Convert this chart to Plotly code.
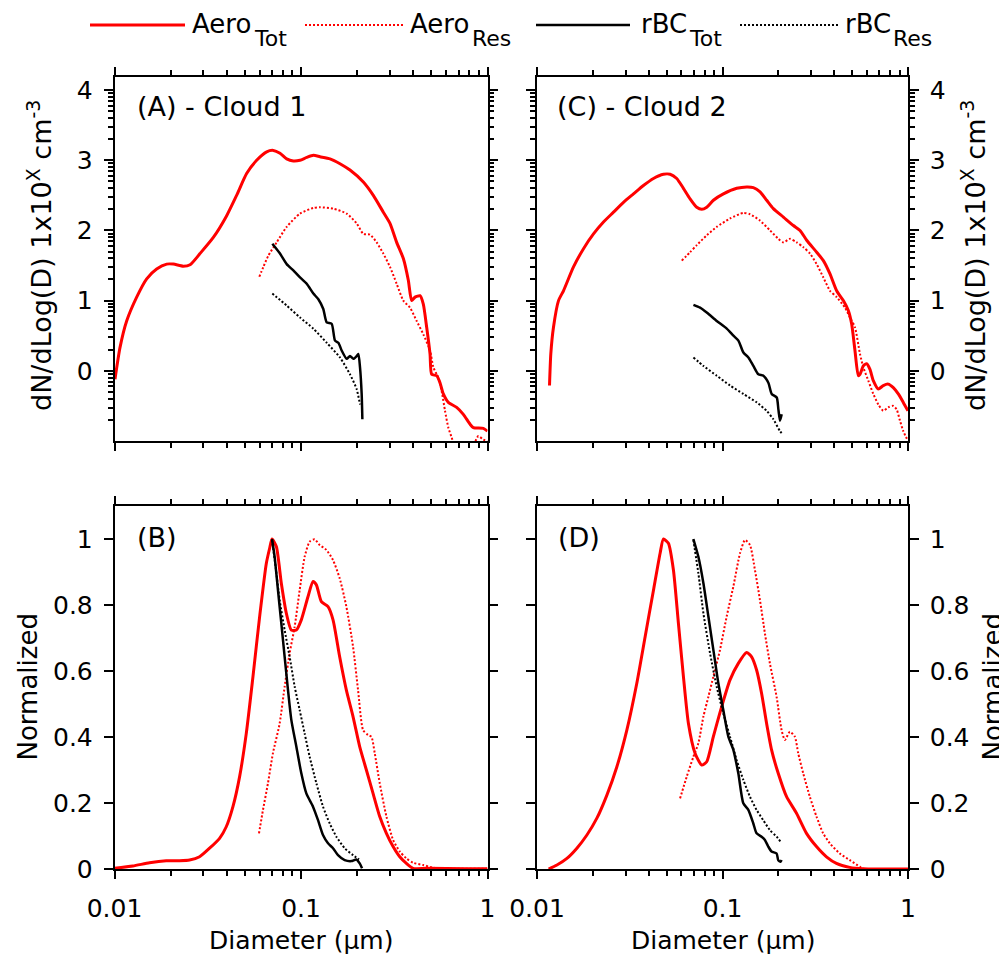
import numpy as np
import plotly.graph_objects as go

# ---------------- data (diameter in um; top panels: log10 dN/dlogD exponent; bottom: normalized) -------------
A_tot_d = [0.01006, 0.0107, 0.01162, 0.01315, 0.01488, 0.01683, 0.01905, 0.02068, 0.02339, 0.02541, 0.02873, 0.03388,
           0.03995, 0.04518, 0.0511, 0.05783, 0.06545, 0.07106, 0.07716, 0.08379, 0.09097, 0.09876, 0.1073, 0.1165,
           0.1264, 0.143, 0.1618, 0.1831, 0.2159, 0.2442, 0.2763, 0.3, 0.3258, 0.3538, 0.3762, 0.3921, 0.4087, 0.4346,
           0.4527, 0.4719, 0.4918, 0.502, 0.5339, 0.5563, 0.5798, 0.6166, 0.6833, 0.742, 0.8057, 0.8397, 0.9499, 1.0]
A_tot_y = [-0.12, 0.33, 0.71, 1.05, 1.31, 1.45, 1.52, 1.52, 1.49, 1.51, 1.67, 1.9, 2.21, 2.5, 2.81, 3.0, 3.12, 3.14,
           3.1, 3.02, 2.99, 3.0, 3.04, 3.07, 3.05, 3.02, 2.95, 2.86, 2.69, 2.5, 2.26, 2.1, 1.83, 1.6, 1.29, 1.0, 1.05,
           1.07, 0.95, 0.62, 0.24, -0.05, -0.07, -0.17, -0.33, -0.45, -0.52, -0.62, -0.76, -0.81, -0.82, -0.86]
A_res_d = [0.05978, 0.06281, 0.0668, 0.07404, 0.08379, 0.09876, 0.1165, 0.1264, 0.1491, 0.1758, 0.1988, 0.2159,
           0.2344, 0.2545, 0.2763, 0.3, 0.3258, 0.3538, 0.3841, 0.4171, 0.4527, 0.4918, 0.5125, 0.545, 0.5678, 0.5918,
           0.6166, 0.6426, 0.6833, 0.8397, 0.893, 0.9499, 1.0]
A_res_y = [1.34, 1.48, 1.64, 1.83, 2.05, 2.24, 2.32, 2.33, 2.31, 2.24, 2.1, 1.95, 1.94, 1.83, 1.67, 1.48, 1.24, 1.0,
           0.9, 0.71, 0.52, 0.29, 0.05, -0.1, -0.29, -0.57, -0.81, -0.95, -1.14, -1.05, -0.93, -0.98, -1.0]
A_bct_d = [0.0702, 0.07716, 0.08379, 0.09097, 0.09876, 0.1073, 0.1165, 0.1239, 0.1317, 0.1373, 0.146, 0.1522, 0.1586,
           0.1652, 0.1758, 0.1831, 0.1909, 0.1988, 0.203, 0.2072, 0.2115, 0.2133]
A_bct_y = [1.81, 1.67, 1.52, 1.43, 1.33, 1.24, 1.1, 1.02, 0.88, 0.69, 0.67, 0.43, 0.4, 0.29, 0.17, 0.21, 0.17, 0.21,
           0.24, 0.05, -0.33, -0.69]
A_bcr_d = [0.0702, 0.08379, 0.09876, 0.1165, 0.1373, 0.1618, 0.1831, 0.1988, 0.2072]
A_bcr_y = [1.1, 0.93, 0.76, 0.6, 0.4, 0.19, -0.05, -0.26, -0.48]

C_tot_d = [0.01168, 0.01187, 0.01227, 0.01306, 0.01389, 0.01573, 0.01781, 0.02016, 0.02282, 0.02584, 0.02925,
           0.03311, 0.03748, 0.04243, 0.04804, 0.05218, 0.05667, 0.06155, 0.06686, 0.07262, 0.07729, 0.08222, 0.08932,
           0.1011, 0.1193, 0.1351, 0.1467, 0.1594, 0.1731, 0.188, 0.2129, 0.241, 0.2618, 0.2843, 0.3219, 0.3497,
           0.3798, 0.4125, 0.448, 0.4766, 0.4968, 0.5177, 0.5396, 0.5509, 0.5742, 0.5984, 0.6237, 0.6501, 0.6918,
           0.736, 0.7832, 0.8332, 0.8864, 0.9432, 1.0]
C_tot_y = [-0.21, 0.24, 0.62, 1.0, 1.14, 1.48, 1.74, 1.95, 2.12, 2.26, 2.4, 2.52, 2.64, 2.74, 2.8, 2.8, 2.74, 2.6,
           2.45, 2.33, 2.3, 2.33, 2.43, 2.52, 2.6, 2.62, 2.61, 2.55, 2.43, 2.31, 2.19, 2.07, 2.0, 1.86, 1.69, 1.57,
           1.38, 1.14, 1.0, 0.86, 0.67, 0.29, -0.07, -0.05, 0.07, 0.1, 0.02, -0.14, -0.26, -0.21, -0.19, -0.24, -0.33,
           -0.45, -0.57]
C_res_d = [0.0603, 0.06688, 0.07264, 0.08224, 0.0931, 0.1098, 0.1296, 0.1407, 0.1594, 0.1804, 0.2001, 0.2129, 0.2312,
           0.2512, 0.2729, 0.2964, 0.3219, 0.3497, 0.3798, 0.4125, 0.4574, 0.4866, 0.5177, 0.5509, 0.5742, 0.611,
           0.6501, 0.6918, 0.736, 0.7832, 0.8332, 0.8686, 0.9054, 0.9432, 1.0]
C_res_y = [1.57, 1.69, 1.79, 1.93, 2.05, 2.17, 2.25, 2.23, 2.14, 2.0, 1.88, 1.83, 1.88, 1.83, 1.76, 1.67, 1.52, 1.33,
           1.14, 1.05, 0.9, 0.76, 0.62, 0.24, 0.05, -0.14, -0.33, -0.48, -0.57, -0.52, -0.5, -0.55, -0.71, -0.86, -1.0]
C_bct_d = [0.06971, 0.07571, 0.08224, 0.0931, 0.1054, 0.1145, 0.1218, 0.1296, 0.1379, 0.1467, 0.1561, 0.1661, 0.1767,
           0.1842, 0.196, 0.2001, 0.2042, 0.2085]
C_bct_y = [0.94, 0.9, 0.83, 0.71, 0.6, 0.5, 0.43, 0.26, 0.19, 0.07, -0.05, -0.07, -0.17, -0.33, -0.38, -0.55, -0.71,
           -0.62]
C_bcr_d = [0.06971, 0.07889, 0.0931, 0.1098, 0.1296, 0.153, 0.1731, 0.188, 0.2042, 0.2111]
C_bcr_y = [0.19, 0.07, -0.07, -0.21, -0.33, -0.45, -0.57, -0.69, -0.86, -0.9]

B_tot_d = [0.01, 0.01254, 0.01541, 0.01894, 0.02233, 0.02527, 0.02859, 0.03235, 0.0366, 0.03974, 0.04316, 0.04687,
           0.05089, 0.05527, 0.06001, 0.06516, 0.0679, 0.06991, 0.07375, 0.07843, 0.08343, 0.08874, 0.0944, 0.1004,
           0.109, 0.116, 0.1209, 0.1286, 0.1396, 0.1485, 0.1612, 0.1751, 0.1901, 0.2064, 0.2242, 0.2434, 0.2643,
           0.2871, 0.3117, 0.3384, 0.3675, 0.399, 0.4706, 0.7716, 1.0]
B_tot_y = [0.002, 0.009, 0.019, 0.025, 0.025, 0.027, 0.037, 0.063, 0.093, 0.128, 0.189, 0.28, 0.411, 0.583, 0.765,
           0.926, 0.972, 1.0, 0.977, 0.866, 0.775, 0.724, 0.724, 0.755, 0.825, 0.871, 0.861, 0.81, 0.795, 0.755, 0.643,
           0.542, 0.462, 0.371, 0.3, 0.229, 0.159, 0.108, 0.068, 0.037, 0.017, 0.002, 0.002, 0.001, 0.001]
B_res_d = [0.05953, 0.06254, 0.06651, 0.07073, 0.07683, 0.08172, 0.08692, 0.09247, 0.09835, 0.1046, 0.1113, 0.1184,
           0.1259, 0.1368, 0.1485, 0.1612, 0.1751, 0.1901, 0.2023, 0.2152, 0.2288, 0.2385, 0.2485, 0.2643, 0.2871,
           0.3117, 0.3384, 0.3675, 0.399, 0.4515, 0.5109, 0.5548, 1.0]
B_res_y = [0.108, 0.179, 0.26, 0.351, 0.441, 0.553, 0.654, 0.734, 0.845, 0.946, 0.992, 0.999, 0.982, 0.967, 0.936,
           0.881, 0.795, 0.674, 0.542, 0.421, 0.406, 0.401, 0.351, 0.26, 0.159, 0.088, 0.053, 0.032, 0.019, 0.012,
           0.004, 0.001, 0.001]
B_bct_d = [0.06991, 0.0722, 0.07525, 0.07843, 0.08172, 0.08517, 0.08874, 0.0944, 0.1004, 0.1068, 0.116, 0.1234,
           0.1312, 0.1396, 0.1485, 0.1579, 0.1715, 0.1863, 0.1982, 0.2064, 0.2125]
B_bct_y = [1.0, 0.946, 0.845, 0.744, 0.643, 0.542, 0.452, 0.371, 0.29, 0.229, 0.189, 0.148, 0.103, 0.078, 0.063,
           0.042, 0.027, 0.024, 0.029, 0.017, 0.002]
B_bcr_d = [0.06991, 0.07311, 0.07683, 0.08172, 0.08692, 0.09247, 0.09835, 0.1046, 0.1113, 0.1209, 0.1312, 0.1425,
           0.1548, 0.1715, 0.1901, 0.2047]
B_bcr_y = [0.997, 0.916, 0.815, 0.724, 0.643, 0.553, 0.482, 0.411, 0.34, 0.26, 0.189, 0.138, 0.098, 0.063, 0.042,
           0.029]

D_tot_d = [0.01155, 0.01281, 0.0145, 0.01641, 0.01858, 0.02103, 0.02381, 0.02695, 0.0305, 0.03452, 0.03828, 0.04245,
           0.0461, 0.04805, 0.0511, 0.05438, 0.05786, 0.06157, 0.06551, 0.07112, 0.07727, 0.0822, 0.08928, 0.09897,
           0.1098, 0.1217, 0.1349, 0.1435, 0.1527, 0.1625, 0.1729, 0.1839, 0.1997, 0.2215, 0.2506, 0.2837, 0.3211,
           0.3635, 0.4114, 0.4854, 0.5727, 1.0]
D_tot_y = [0.0, 0.012, 0.032, 0.063, 0.103, 0.154, 0.224, 0.31, 0.421, 0.563, 0.704, 0.845, 0.957, 1.0, 0.987, 0.906,
           0.744, 0.583, 0.441, 0.351, 0.315, 0.325, 0.401, 0.492, 0.573, 0.623, 0.656, 0.643, 0.603, 0.532, 0.441,
           0.361, 0.29, 0.219, 0.169, 0.108, 0.068, 0.037, 0.017, 0.005, 0.001, 0.0]
D_res_d = [0.05906, 0.06416, 0.06966, 0.07413, 0.07889, 0.08393, 0.08928, 0.09694, 0.1053, 0.1144, 0.1243, 0.1322,
           0.1406, 0.1496, 0.1592, 0.1693, 0.1801, 0.1957, 0.2082, 0.2169, 0.2308, 0.2455, 0.2559, 0.2723, 0.2957,
           0.3211, 0.3488, 0.3788, 0.4288, 0.4854, 0.5495, 0.5727, 1.0]
D_res_y = [0.214, 0.28, 0.34, 0.381, 0.462, 0.522, 0.583, 0.664, 0.765, 0.856, 0.957, 0.997, 0.982, 0.906, 0.815,
           0.714, 0.623, 0.522, 0.421, 0.391, 0.416, 0.401, 0.351, 0.29, 0.219, 0.159, 0.108, 0.078, 0.047, 0.027,
           0.007, 0.001, 0.0]
D_bct_d = [0.06966, 0.07413, 0.07889, 0.08393, 0.08928, 0.09498, 0.101, 0.1075, 0.1144, 0.1217, 0.1295, 0.1378,
           0.1466, 0.1527, 0.1625, 0.1693, 0.1765, 0.1839, 0.1957, 0.1997, 0.2056, 0.2082]
D_bct_y = [1.0, 0.946, 0.866, 0.765, 0.664, 0.563, 0.482, 0.401, 0.361, 0.29, 0.199, 0.179, 0.138, 0.108, 0.098,
           0.088, 0.068, 0.053, 0.047, 0.027, 0.022, 0.027]
D_bcr_d = [0.06966, 0.07413, 0.07889, 0.08566, 0.09302, 0.101, 0.1098, 0.1192, 0.1295, 0.1406, 0.1527, 0.1658,
           0.1801, 0.1957, 0.2056]
D_bcr_y = [0.997, 0.896, 0.775, 0.654, 0.553, 0.472, 0.401, 0.33, 0.27, 0.219, 0.179, 0.148, 0.118, 0.098, 0.083]

x_tick_vals = [0.01, 0.1, 1]
x_tick_text = ["0.01", "0.1", "1"]
top_tick_vals = [0, 1, 2, 3, 4]
top_tick_text = ["0", "1", "2", "3", "4"]
bot_tick_vals = [0, 0.2, 0.4, 0.6, 0.8, 1.0]
bot_tick_text = ["0", "0.2", "0.4", "0.6", "0.8", "1"]
panel_labels = ["(A) - Cloud 1", "(C) - Cloud 2", "(B)", "(D)"]
series_names = ["Aero", "Aero", "rBC", "rBC"]
series_subs = ["Tot", "Res", "Tot", "Res"]
top_title = "dN/dLog(D) 1x10<sup>X</sup> cm<sup>-3</sup>"
bot_title = "Normalized"
x_title = "Diameter (\u03bcm)"

# ---------------- styling / layout ----------------
OFF = 8                      # page body margin of the HTML page
W, H = 1007 - OFF, 959 - OFF
FONT = "DejaVu Sans"
RED = "#FF0000"
BLACK = "#000000"


def fx(px):
    return (px - OFF) / W


def fy(py):
    return 1 - (py - OFF) / H


styles = [
    dict(color=RED, width=3, dash="solid"),
    dict(color=RED, width=2, dash="2px,2px"),
    dict(color=BLACK, width=2.5, dash="solid"),
    dict(color=BLACK, width=2, dash="2px,2px"),
]

fig = go.Figure()

panels = [
    ("x", "y", [(A_tot_d, A_tot_y), (A_res_d, A_res_y), (A_bct_d, A_bct_y), (A_bcr_d, A_bcr_y)]),
    ("x2", "y2", [(C_tot_d, C_tot_y), (C_res_d, C_res_y), (C_bct_d, C_bct_y), (C_bcr_d, C_bcr_y)]),
    ("x3", "y3", [(B_tot_d, B_tot_y), (B_res_d, B_res_y), (B_bct_d, B_bct_y), (B_bcr_d, B_bcr_y)]),
    ("x4", "y4", [(D_tot_d, D_tot_y), (D_res_d, D_res_y), (D_bct_d, D_bct_y), (D_bcr_d, D_bcr_y)]),
]
for xa, ya, series in panels:
    for k, (d, v) in enumerate(series):
        st = styles[k]
        fig.add_trace(go.Scatter(
            x=d, y=v, xaxis=xa, yaxis=ya, mode="lines",
            line=dict(color=st["color"], width=st["width"], dash=st["dash"],
                      shape="spline", smoothing=0.6),
            name=series_names[k] + series_subs[k], showlegend=False, hoverinfo="skip"))

x_minor = [k * 10.0 ** n for n in (-2, -1) for k in range(2, 10)]
y_minor = [n + np.log10(k) for n in range(-1, 5) for k in range(2, 10) if n + np.log10(k) < 4.18]

colL = [fx(114.5), fx(487.5)]
colR = [fx(537), fx(908)]
rowT = [fy(441), fy(76.7)]
rowB = [fy(869), fy(506)]

tickfont = dict(family=FONT, size=25, color="black")


def xaxis(domain, anchor, labels):
    return dict(type="log", range=[-2, 0], domain=domain, anchor=anchor, automargin=False,
                showline=True, linecolor="black", linewidth=1.5, mirror="allticks",
                ticks="outside", ticklen=8, tickwidth=1.5, tickcolor="black",
                tickmode="array", tickvals=x_tick_vals, ticktext=x_tick_text,
                showticklabels=labels, tickfont=tickfont, ticklabelstandoff=8,
                showgrid=False, zeroline=False,
                minor=dict(tickmode="array", tickvals=x_minor, ticks="outside", ticklen=5,
                           tickwidth=1.5, tickcolor="black", showgrid=False))


def yaxis_top(domain, anchor, side):
    return dict(range=[-1.0, 4.19], domain=domain, anchor=anchor, side=side, automargin=False,
                showline=True, linecolor="black", linewidth=1.5, mirror="allticks",
                ticks="outside", ticklen=9, tickwidth=1.5, tickcolor="black",
                tickmode="array", tickvals=top_tick_vals, ticktext=top_tick_text,
                tickfont=tickfont, ticklabelstandoff=6, showgrid=False, zeroline=False,
                minor=dict(tickmode="array", tickvals=y_minor, ticks="outside", ticklen=5,
                           tickwidth=1.5, tickcolor="black", showgrid=False))


def yaxis_bot(domain, anchor, side):
    return dict(range=[0, 1.1], domain=domain, anchor=anchor, side=side, automargin=False,
                showline=True, linecolor="black", linewidth=1.5, mirror="allticks",
                ticks="outside", ticklen=9, tickwidth=1.5, tickcolor="black",
                tickmode="array", tickvals=bot_tick_vals, ticktext=bot_tick_text,
                tickfont=tickfont, ticklabelstandoff=6, showgrid=False, zeroline=False)


fig.update_layout(
    template="none",
    width=W, height=H, margin=dict(l=0, r=0, t=0, b=0, autoexpand=False),
    paper_bgcolor="white", plot_bgcolor="white", showlegend=False,
    font=dict(family=FONT, size=25, color="black"),
    xaxis=xaxis(colL, "y", False), yaxis=yaxis_top(rowT, "x", "left"),
    xaxis2=xaxis(colR, "y2", False), yaxis2=yaxis_top(rowT, "x2", "right"),
    xaxis3=xaxis(colL, "y3", True), yaxis3=yaxis_bot(rowB, "x3", "left"),
    xaxis4=xaxis(colR, "y4", True), yaxis4=yaxis_bot(rowB, "x4", "right"),
)

ann = []
# panel labels
for txt, (px, py) in zip(panel_labels, [(135, 106), (555, 106), (135, 537), (556, 537)]):
    ann.append(dict(text=txt, x=fx(px), y=fy(py), xref="paper", yref="paper", xanchor="left",
                    yanchor="middle", showarrow=False, font=dict(family=FONT, size=27, color="black")))
# axis titles
for px in (301, 722.5):
    ann.append(dict(text=x_title, x=fx(px), y=fy(940), xref="paper", yref="paper", xanchor="center",
                    yanchor="middle", showarrow=False, font=dict(family=FONT, size=25, color="black")))
for px in (40, 974):
    ann.append(dict(text=top_title, x=fx(px), y=fy(256), xref="paper", yref="paper", xanchor="center",
                    yanchor="middle", textangle=-90, showarrow=False,
                    font=dict(family=FONT, size=27, color="black")))
for px in (27, 992):
    ann.append(dict(text=bot_title, x=fx(px), y=fy(687.5), xref="paper", yref="paper", xanchor="center",
                    yanchor="middle", textangle=-90, showarrow=False,
                    font=dict(family=FONT, size=26, color="black")))

# legend (manual)
leg_lines = [(90, 185), (305, 403), (536, 630), (740, 838)]
leg_text_x = [191, 409, 640, 844]
leg_sub_x = [253, 471, 688, 892]
shapes = []
for k in range(4):
    st = styles[k]
    x0, x1 = leg_lines[k]
    shapes.append(dict(type="line", xref="paper", yref="paper", x0=fx(x0), x1=fx(x1), y0=fy(25), y1=fy(25),
                       line=dict(color=st["color"], width=st["width"], dash=st["dash"])))
    ann.append(dict(text=series_names[k], x=fx(leg_text_x[k]), y=fy(24), xref="paper", yref="paper",
                    xanchor="left", yanchor="middle", showarrow=False, borderpad=0,
                    font=dict(family=FONT, size=26, color="black")))
    ann.append(dict(text=series_subs[k], x=fx(leg_sub_x[k]), y=fy(38), xref="paper", yref="paper",
                    xanchor="left", yanchor="middle", showarrow=False, borderpad=0,
                    font=dict(family=FONT, size=22, color="black")))

fig.update_layout(annotations=ann, shapes=shapes)
fig.write_html("out.html")
